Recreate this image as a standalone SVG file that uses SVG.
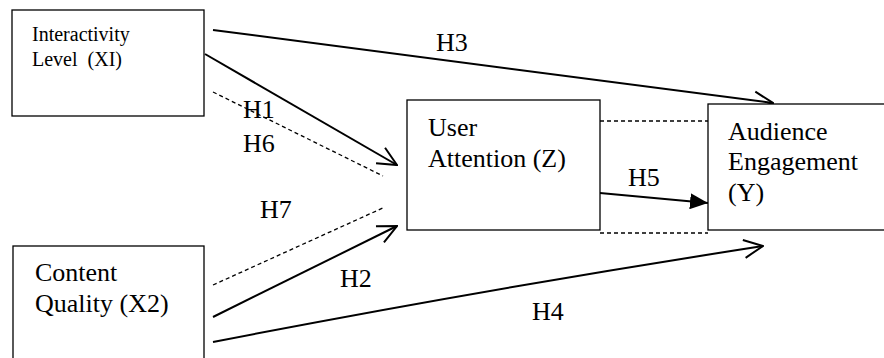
<svg xmlns="http://www.w3.org/2000/svg" width="884" height="358" viewBox="0 0 884 358">
<style>
.box{fill:#fff;stroke:#000;stroke-width:1.3}
text{font-family:'Liberation Serif','Times New Roman','DejaVu Serif',serif;fill:#000}
.lbl{font-size:26px}
.sm{font-size:20px}
.ln{fill:none;stroke:#000;stroke-width:2}
.ds{fill:none;stroke:#000;stroke-width:1.3;stroke-dasharray:4 3}
</style>
<defs>
<marker id="open" markerUnits="userSpaceOnUse" viewBox="0 0 22 22" markerWidth="22" markerHeight="22" refX="21" refY="11" orient="auto">
<path d="M2,2 L21,11 L2,20" fill="none" stroke="#000" stroke-width="2"/>
</marker>
<marker id="fill" markerUnits="userSpaceOnUse" viewBox="0 0 18 16" markerWidth="18" markerHeight="16" refX="18" refY="8" orient="auto">
<path d="M0,0 L18,8 L0,16 Z" fill="#000"/>
</marker>
</defs>
<g id="connectors">
<line class="ln" x1="213" y1="30" x2="773" y2="103" marker-end="url(#open)"/>
<line class="ln" x1="205" y1="54" x2="397" y2="165" marker-end="url(#open)"/>
<line class="ds" x1="213" y1="92" x2="383" y2="176"/>
<line class="ds" x1="213" y1="285" x2="385" y2="207"/>
<line class="ln" x1="213" y1="317" x2="397" y2="226" marker-end="url(#open)"/>
<path class="ln" d="M213,342 Q480,290 763,246" marker-end="url(#open)"/>
<line class="ln" x1="600" y1="193" x2="708" y2="203" marker-end="url(#fill)"/>
<line class="ds" x1="600" y1="121" x2="708" y2="121"/>
<line class="ds" x1="600" y1="233" x2="708" y2="233"/>
<text class="lbl" font-family="Liberation Serif, serif" x="436" y="51">H3</text>
<text class="lbl" font-family="Liberation Serif, serif" x="243" y="118">H1</text>
<text class="lbl" font-family="Liberation Serif, serif" x="243" y="152">H6</text>
<text class="lbl" font-family="Liberation Serif, serif" x="260" y="218">H7</text>
<text class="lbl" font-family="Liberation Serif, serif" x="340" y="287">H2</text>
<text class="lbl" font-family="Liberation Serif, serif" x="532" y="320">H4</text>
<text class="lbl" font-family="Liberation Serif, serif" x="628" y="186">H5</text>
</g>
<g id="interactivity">
<rect class="box" x="12" y="10" width="192" height="106"/>
<text class="sm" x="32" y="41">Interactivity</text>
<text class="sm" x="32" y="66" xml:space="preserve">Level  (XI)</text>
</g>
<g id="content">
<rect class="box" x="13" y="246" width="191" height="130"/>
<text class="lbl" x="35" y="281">Content</text>
<text class="lbl" x="35" y="312">Quality (X2)</text>
</g>
<g id="attention">
<rect class="box" x="407" y="100" width="193" height="130"/>
<text class="lbl" x="428" y="136">User</text>
<text class="lbl" x="428" y="167">Attention (Z)</text>
</g>
<g id="engagement">
<rect class="box" x="708" y="104" width="190" height="126"/>
<text class="lbl" x="728" y="140">Audience</text>
<text class="lbl" x="728" y="170">Engagement</text>
<text class="lbl" x="728" y="201">(Y)</text>
</g>
</svg>
